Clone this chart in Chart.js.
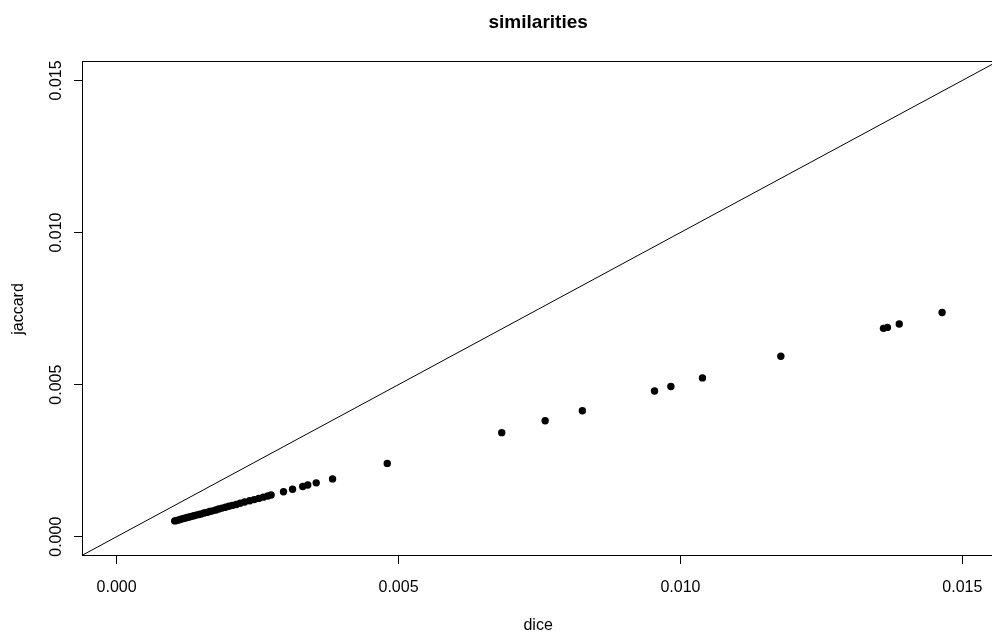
<!DOCTYPE html>
<html>
<head>
<meta charset="utf-8">
<script src="https://cdn.jsdelivr.net/npm/chart.js@4.4.1/dist/chart.umd.min.js"></script>
<style>
  html, body { margin: 0; padding: 0; overflow: hidden; background: #fff; }
  canvas { display: block; }
</style>
</head>
<body>
<canvas id="chart" width="998" height="635" style="width:998px;height:635px"></canvas>
<script>
// values
const dice = [
  0.00103, 0.00106, 0.00110, 0.00113, 0.00117, 0.00121, 0.00125, 0.00129,
  0.00133, 0.00137, 0.00141, 0.00146, 0.00150, 0.00155, 0.00160, 0.00165,
  0.00170, 0.00176, 0.00181, 0.00187, 0.00193, 0.00199, 0.00205, 0.00212,
  0.00219, 0.00227, 0.00236, 0.00244, 0.00252, 0.00260, 0.00268, 0.00274,
  0.00296, 0.00312, 0.00330, 0.00339, 0.00354, 0.00383, 0.00480, 0.00683,
  0.00760, 0.00826, 0.00954, 0.00983, 0.01039, 0.01178, 0.01360, 0.01367,
  0.01388, 0.01464
];
const jaccard = [
  0.00052, 0.00053, 0.00055, 0.00057, 0.00059, 0.00061, 0.00063, 0.00065,
  0.00067, 0.00069, 0.00071, 0.00073, 0.00075, 0.00078, 0.00080, 0.00083,
  0.00085, 0.00088, 0.00091, 0.00094, 0.00097, 0.00100, 0.00103, 0.00106,
  0.00110, 0.00114, 0.00118, 0.00122, 0.00126, 0.00130, 0.00134, 0.00137,
  0.00148, 0.00156, 0.00165, 0.00170, 0.00177, 0.00190, 0.00241, 0.00342,
  0.00381, 0.00414, 0.00479, 0.00494, 0.00522, 0.00593, 0.00685, 0.00688,
  0.00699, 0.00737
];
// y = x reference line, two ends
const refX = [-0.001, 0.017];
const refY = [-0.001, 0.017];

const xTicks = [0, 0.005, 0.010, 0.015];
const yTicks = [0, 0.005, 0.010, 0.015];

const FONT = "'Liberation Sans', Arial, Helvetica, sans-serif";

// R style frame + rotated y tick labels
const framePlugin = {
  id: "frame",
  afterDraw(chart) {
    const { ctx, chartArea: a, scales } = chart;
    ctx.save();
    ctx.strokeStyle = "#000";
    ctx.lineWidth = 1;
    ctx.strokeRect(a.left + 0.5, a.top - 0.5, a.right - a.left - 1, a.bottom - a.top);
    ctx.fillStyle = "#000";
    ctx.font = "16px " + FONT;
    ctx.textAlign = "center";
    ctx.textBaseline = "middle";
    yTicks.forEach(v => {
      const py = scales.y.getPixelForValue(v);
      ctx.save();
      ctx.translate(57, py);
      ctx.rotate(-Math.PI / 2);
      ctx.fillText(v.toFixed(3), 0, 0);
      ctx.restore();
    });
    ctx.restore();
  }
};

new Chart(document.getElementById("chart"), {
  type: "scatter",
  data: {
    datasets: [
      {
        label: "points",
        data: dice.map((d, i) => ({ x: d, y: jaccard[i] })),
        backgroundColor: "#000",
        borderWidth: 0,
        pointRadius: 3.7,
        pointHoverRadius: 3.7
      },
      {
        type: "line",
        label: "y = x",
        data: refX.map((x, i) => ({ x: x, y: refY[i] })),
        borderColor: "#000",
        borderWidth: 1,
        pointRadius: 0,
        fill: false
      }
    ]
  },
  plugins: [framePlugin],
  options: {
    responsive: false,
    animation: false,
    devicePixelRatio: 1,
    layout: { padding: 0 },
    plugins: {
      legend: { display: false },
      tooltip: { enabled: false },
      title: {
        display: true,
        text: "similarities",
        color: "#000",
        fullSize: false,
        font: { family: FONT, size: 19, weight: "bold" },
        padding: { top: 11.6, bottom: 27.6 }
      }
    },
    scales: {
      x: {
        type: "linear",
        min: -0.000614,
        max: 0.015566,
        afterBuildTicks: s => { s.ticks = xTicks.map(v => ({ value: v })); },
        afterFit: s => { s.height = 79; },
        grid: { drawOnChartArea: false, drawTicks: true, tickLength: 8, tickColor: "#000" },
        border: { display: false },
        ticks: {
          color: "#000",
          font: { family: FONT, size: 16 },
          padding: 14,
          maxRotation: 0,
          autoSkip: false,
          callback: v => v.toFixed(3)
        },
        title: {
          display: true,
          text: "dice",
          color: "#000",
          font: { family: FONT, size: 16 },
          padding: { top: 0, bottom: 0 }
        }
      },
      y: {
        type: "linear",
        min: -0.000634,
        max: 0.015605,
        afterBuildTicks: s => { s.ticks = yTicks.map(v => ({ value: v })); },
        afterFit: s => { s.width = 82; },
        grid: { drawOnChartArea: false, drawTicks: true, tickLength: 8, tickColor: "#000" },
        border: { display: false },
        ticks: { display: false },
        title: {
          display: true,
          text: "jaccard",
          color: "#000",
          font: { family: FONT, size: 16 },
          padding: { top: 9.4, bottom: 0 }
        }
      }
    }
  }
});
</script>
</body>
</html>
